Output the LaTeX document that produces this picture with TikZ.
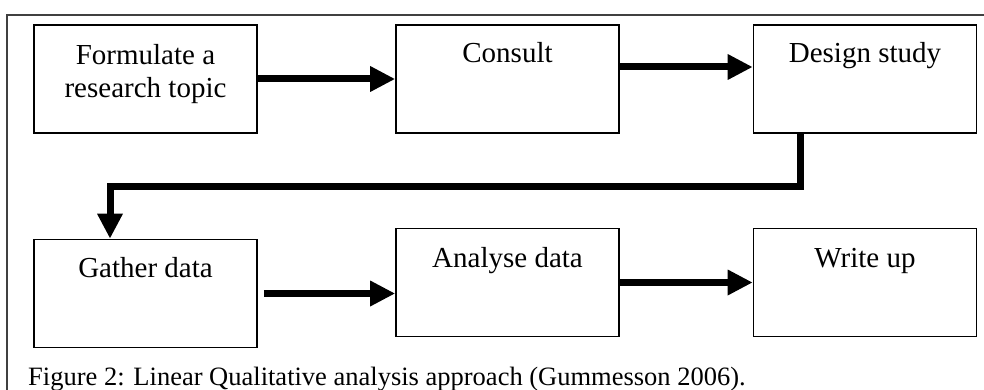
\documentclass[tikz,border=0pt]{standalone}
\usepackage{fontspec}
\setmainfont{Liberation Serif}
\usetikzlibrary{arrows.meta}

\begin{document}
\begin{tikzpicture}[x=1pt,y=-1pt]
    \useasboundingbox (0,0) rectangle (984,390);
    \clip (0,0) rectangle (984,390);
    \draw[black!75, line width=1.5pt] (7,15) rectangle (1000,420);

    \begin{scope}[every node/.style={draw,line width=1.6pt,minimum width=223pt,minimum height=108pt}]
        \node (form) at (145.5,79) {};
        \node (cons) at (507.5,79) {};
        \node (dsgn) at (865,79) {};
        \node (gath) at (145.5,293.5) {};
        \node (anly) at (507.5,282.5) {};
        \node (writ) at (865,282.5) {};
    \end{scope}

    \begin{scope}[every node/.style={anchor=base,align=center,inner sep=0pt,font=\fontsize{29}{33}\selectfont}]
        \node (formtxt) at (145.5,98) {Formulate a\\research topic};
        \node (constxt) at (507.5,63) {Consult};
        \node (dsgntxt) at (865,63) {Design study};
        \node (gathtxt) at (145.5,277) {Gather data};
        \node (anlytxt) at (507.5,267) {Analyse data};
        \node (writtxt) at (865,267) {Write up};
    \end{scope}

    \begin{scope}[line width=7pt,>={Triangle[length=25pt,width=24pt]}]
        \draw [->] (form.east) -- (cons.west);
        \draw [->] ([yshift=12pt]cons.east) -- ([yshift=12pt]dsgn.west);
        \draw [->] ([xshift=-65pt]dsgn.south) -- ++(0,53) -| ([xshift=-35.5pt]gath.north);
        \draw [->] ([xshift=6pt]gath.east) -- (gath.east -| anly.west);
        \draw [->] (anly.east) -- (writ.west);
    \end{scope}

    \node[anchor=base west,inner sep=0pt,font=\fontsize{26.5}{30}\selectfont] (capt) at (28,385)
        {Figure 2: Linear Qualitative analysis approach (Gummesson 2006).};
\end{tikzpicture}
\end{document}
